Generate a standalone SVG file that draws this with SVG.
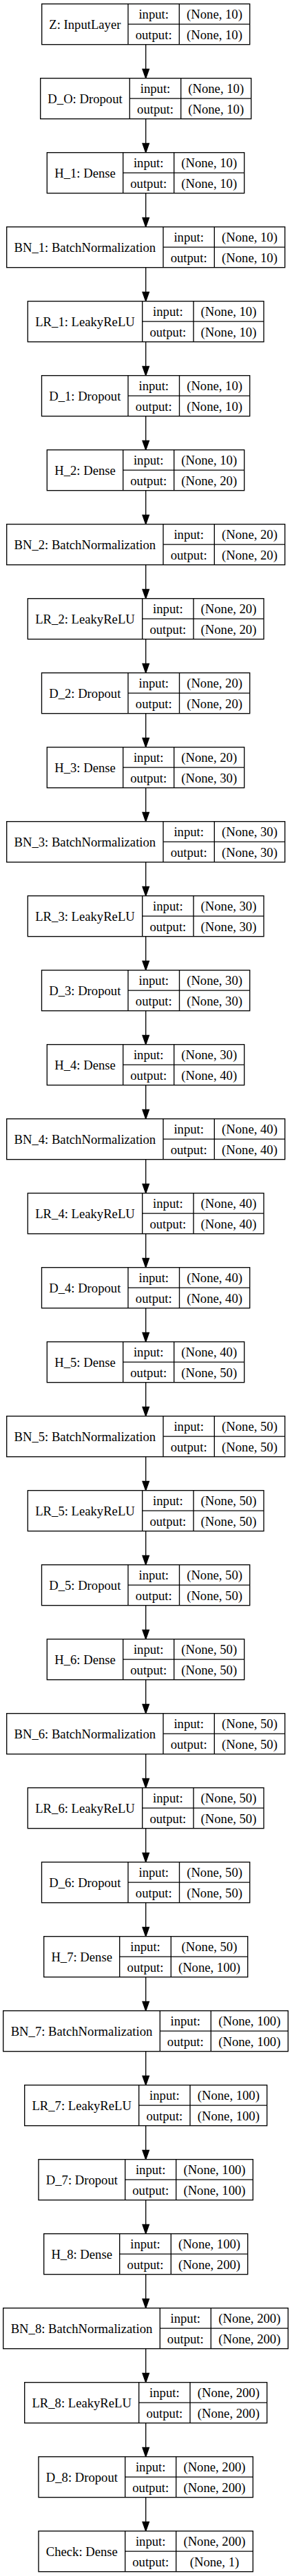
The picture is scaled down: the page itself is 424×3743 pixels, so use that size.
<svg xmlns="http://www.w3.org/2000/svg" xmlns:xlink="http://www.w3.org/1999/xlink" width="424" height="3743" viewBox="0 0 424 3743">
<style>
.b{fill:#fff;stroke:#000;stroke-width:1.33}
.l{stroke:#000;stroke-width:1.33;fill:none}
.a{fill:#000;stroke:#000;stroke-width:1.33}
text{font-family:"Liberation Serif","Times New Roman",serif;font-size:18.67px;text-anchor:middle;fill:#000}
</style>
<defs>
<g id="fZ"><rect class="b" x="60.7" y="0" width="302" height="59"/><path class="l" d="M186,0V59M260.3,0V59M186,29.5H362.7"/></g>
<g id="fDO"><rect class="b" x="58.7" y="0" width="306" height="59"/><path class="l" d="M188.3,0V59M262.7,0V59M188.3,29.5H364.7"/></g>
<g id="fD2"><rect class="b" x="60.5" y="0" width="302.2" height="59"/><path class="l" d="M186,0V59M260.5,0V59M186,29.5H362.7"/></g>
<g id="fH2"><rect class="b" x="68.3" y="0" width="286.4" height="59"/><path class="l" d="M178.7,0V59M252.7,0V59M178.7,29.5H354.7"/></g>
<g id="fBN2"><rect class="b" x="9.7" y="0" width="404" height="59"/><path class="l" d="M237,0V59M311.3,0V59M237,29.5H413.7"/></g>
<g id="fLR2"><rect class="b" x="40.3" y="0" width="342.7" height="59"/><path class="l" d="M206.7,0V59M281,0V59M206.7,29.5H383"/></g>
<g id="fH3"><rect class="b" x="63.7" y="0" width="296" height="59"/><path class="l" d="M173.7,0V59M248.3,0V59M173.7,29.5H359.7"/></g>
<g id="fBN3"><rect class="b" x="4.7" y="0" width="413.6" height="59"/><path class="l" d="M232.3,0V59M306.3,0V59M232.3,29.5H418.3"/></g>
<g id="fLR3"><rect class="b" x="35.7" y="0" width="352" height="59"/><path class="l" d="M201.7,0V59M276,0V59M201.7,29.5H387.7"/></g>
<g id="fD3"><rect class="b" x="56" y="0" width="311.3" height="59"/><path class="l" d="M181.7,0V59M255.7,0V59M181.7,29.5H367.3"/></g>
<g id="edge"><line class="l" x1="211.7" y1="59" x2="211.7" y2="95"/><polygon class="a" points="211.7,108 207,94.7 216.4,94.7"/></g>
</defs>
<g id="connectors">
<use xlink:href="#edge" href="#edge" y="5.7"/>
<use xlink:href="#edge" href="#edge" y="113.7"/>
<use xlink:href="#edge" href="#edge" y="221.7"/>
<use xlink:href="#edge" href="#edge" y="329.7"/>
<use xlink:href="#edge" href="#edge" y="437.7"/>
<use xlink:href="#edge" href="#edge" y="545.7"/>
<use xlink:href="#edge" href="#edge" y="653.7"/>
<use xlink:href="#edge" href="#edge" y="761.7"/>
<use xlink:href="#edge" href="#edge" y="869.7"/>
<use xlink:href="#edge" href="#edge" y="977.7"/>
<use xlink:href="#edge" href="#edge" y="1085.7"/>
<use xlink:href="#edge" href="#edge" y="1193.7"/>
<use xlink:href="#edge" href="#edge" y="1301.7"/>
<use xlink:href="#edge" href="#edge" y="1409.7"/>
<use xlink:href="#edge" href="#edge" y="1517.7"/>
<use xlink:href="#edge" href="#edge" y="1625.7"/>
<use xlink:href="#edge" href="#edge" y="1733.7"/>
<use xlink:href="#edge" href="#edge" y="1841.7"/>
<use xlink:href="#edge" href="#edge" y="1949.7"/>
<use xlink:href="#edge" href="#edge" y="2057.7"/>
<use xlink:href="#edge" href="#edge" y="2165.7"/>
<use xlink:href="#edge" href="#edge" y="2273.7"/>
<use xlink:href="#edge" href="#edge" y="2381.7"/>
<use xlink:href="#edge" href="#edge" y="2489.7"/>
<use xlink:href="#edge" href="#edge" y="2597.7"/>
<use xlink:href="#edge" href="#edge" y="2705.7"/>
<use xlink:href="#edge" href="#edge" y="2813.7"/>
<use xlink:href="#edge" href="#edge" y="2921.7"/>
<use xlink:href="#edge" href="#edge" y="3029.7"/>
<use xlink:href="#edge" href="#edge" y="3137.7"/>
<use xlink:href="#edge" href="#edge" y="3245.7"/>
<use xlink:href="#edge" href="#edge" y="3353.7"/>
<use xlink:href="#edge" href="#edge" y="3461.7"/>
<use xlink:href="#edge" href="#edge" y="3569.7"/>
</g>
<g id="node-Z" transform="translate(0,5.7)"><use xlink:href="#fZ" href="#fZ"/><text x="123.35" y="36.8">Z: InputLayer</text><text x="223.15" y="21.6">input:</text><text x="223.15" y="51">output:</text><text x="311.5" y="21.6">(None, 10)</text><text x="311.5" y="51">(None, 10)</text></g>
<g id="node-D_O" transform="translate(0,113.7)"><use xlink:href="#fDO" href="#fDO"/><text x="123.5" y="36.8">D_O: Dropout</text><text x="225.5" y="21.6">input:</text><text x="225.5" y="51">output:</text><text x="313.7" y="21.6">(None, 10)</text><text x="313.7" y="51">(None, 10)</text></g>
<g id="node-H_1" transform="translate(0,221.7)"><use xlink:href="#fH2" href="#fH2"/><text x="123.5" y="36.8">H_1: Dense</text><text x="215.7" y="21.6">input:</text><text x="215.7" y="51">output:</text><text x="303.7" y="21.6">(None, 10)</text><text x="303.7" y="51">(None, 10)</text></g>
<g id="node-BN_1" transform="translate(0,329.7)"><use xlink:href="#fBN2" href="#fBN2"/><text x="123.35" y="36.8">BN_1: BatchNormalization</text><text x="274.15" y="21.6">input:</text><text x="274.15" y="51">output:</text><text x="362.5" y="21.6">(None, 10)</text><text x="362.5" y="51">(None, 10)</text></g>
<g id="node-LR_1" transform="translate(0,437.7)"><use xlink:href="#fLR2" href="#fLR2"/><text x="123.5" y="36.8">LR_1: LeakyReLU</text><text x="243.85" y="21.6">input:</text><text x="243.85" y="51">output:</text><text x="332" y="21.6">(None, 10)</text><text x="332" y="51">(None, 10)</text></g>
<g id="node-D_1" transform="translate(0,545.7)"><use xlink:href="#fD2" href="#fD2"/><text x="123.25" y="36.8">D_1: Dropout</text><text x="223.25" y="21.6">input:</text><text x="223.25" y="51">output:</text><text x="311.6" y="21.6">(None, 10)</text><text x="311.6" y="51">(None, 10)</text></g>
<g id="node-H_2" transform="translate(0,653.7)"><use xlink:href="#fH2" href="#fH2"/><text x="123.5" y="36.8">H_2: Dense</text><text x="215.7" y="21.6">input:</text><text x="215.7" y="51">output:</text><text x="303.7" y="21.6">(None, 10)</text><text x="303.7" y="51">(None, 20)</text></g>
<g id="node-BN_2" transform="translate(0,761.7)"><use xlink:href="#fBN2" href="#fBN2"/><text x="123.35" y="36.8">BN_2: BatchNormalization</text><text x="274.15" y="21.6">input:</text><text x="274.15" y="51">output:</text><text x="362.5" y="21.6">(None, 20)</text><text x="362.5" y="51">(None, 20)</text></g>
<g id="node-LR_2" transform="translate(0,869.7)"><use xlink:href="#fLR2" href="#fLR2"/><text x="123.5" y="36.8">LR_2: LeakyReLU</text><text x="243.85" y="21.6">input:</text><text x="243.85" y="51">output:</text><text x="332" y="21.6">(None, 20)</text><text x="332" y="51">(None, 20)</text></g>
<g id="node-D_2" transform="translate(0,977.7)"><use xlink:href="#fD2" href="#fD2"/><text x="123.25" y="36.8">D_2: Dropout</text><text x="223.25" y="21.6">input:</text><text x="223.25" y="51">output:</text><text x="311.6" y="21.6">(None, 20)</text><text x="311.6" y="51">(None, 20)</text></g>
<g id="node-H_3" transform="translate(0,1085.7)"><use xlink:href="#fH2" href="#fH2"/><text x="123.5" y="36.8">H_3: Dense</text><text x="215.7" y="21.6">input:</text><text x="215.7" y="51">output:</text><text x="303.7" y="21.6">(None, 20)</text><text x="303.7" y="51">(None, 30)</text></g>
<g id="node-BN_3" transform="translate(0,1193.7)"><use xlink:href="#fBN2" href="#fBN2"/><text x="123.35" y="36.8">BN_3: BatchNormalization</text><text x="274.15" y="21.6">input:</text><text x="274.15" y="51">output:</text><text x="362.5" y="21.6">(None, 30)</text><text x="362.5" y="51">(None, 30)</text></g>
<g id="node-LR_3" transform="translate(0,1301.7)"><use xlink:href="#fLR2" href="#fLR2"/><text x="123.5" y="36.8">LR_3: LeakyReLU</text><text x="243.85" y="21.6">input:</text><text x="243.85" y="51">output:</text><text x="332" y="21.6">(None, 30)</text><text x="332" y="51">(None, 30)</text></g>
<g id="node-D_3" transform="translate(0,1409.7)"><use xlink:href="#fD2" href="#fD2"/><text x="123.25" y="36.8">D_3: Dropout</text><text x="223.25" y="21.6">input:</text><text x="223.25" y="51">output:</text><text x="311.6" y="21.6">(None, 30)</text><text x="311.6" y="51">(None, 30)</text></g>
<g id="node-H_4" transform="translate(0,1517.7)"><use xlink:href="#fH2" href="#fH2"/><text x="123.5" y="36.8">H_4: Dense</text><text x="215.7" y="21.6">input:</text><text x="215.7" y="51">output:</text><text x="303.7" y="21.6">(None, 30)</text><text x="303.7" y="51">(None, 40)</text></g>
<g id="node-BN_4" transform="translate(0,1625.7)"><use xlink:href="#fBN2" href="#fBN2"/><text x="123.35" y="36.8">BN_4: BatchNormalization</text><text x="274.15" y="21.6">input:</text><text x="274.15" y="51">output:</text><text x="362.5" y="21.6">(None, 40)</text><text x="362.5" y="51">(None, 40)</text></g>
<g id="node-LR_4" transform="translate(0,1733.7)"><use xlink:href="#fLR2" href="#fLR2"/><text x="123.5" y="36.8">LR_4: LeakyReLU</text><text x="243.85" y="21.6">input:</text><text x="243.85" y="51">output:</text><text x="332" y="21.6">(None, 40)</text><text x="332" y="51">(None, 40)</text></g>
<g id="node-D_4" transform="translate(0,1841.7)"><use xlink:href="#fD2" href="#fD2"/><text x="123.25" y="36.8">D_4: Dropout</text><text x="223.25" y="21.6">input:</text><text x="223.25" y="51">output:</text><text x="311.6" y="21.6">(None, 40)</text><text x="311.6" y="51">(None, 40)</text></g>
<g id="node-H_5" transform="translate(0,1949.7)"><use xlink:href="#fH2" href="#fH2"/><text x="123.5" y="36.8">H_5: Dense</text><text x="215.7" y="21.6">input:</text><text x="215.7" y="51">output:</text><text x="303.7" y="21.6">(None, 40)</text><text x="303.7" y="51">(None, 50)</text></g>
<g id="node-BN_5" transform="translate(0,2057.7)"><use xlink:href="#fBN2" href="#fBN2"/><text x="123.35" y="36.8">BN_5: BatchNormalization</text><text x="274.15" y="21.6">input:</text><text x="274.15" y="51">output:</text><text x="362.5" y="21.6">(None, 50)</text><text x="362.5" y="51">(None, 50)</text></g>
<g id="node-LR_5" transform="translate(0,2165.7)"><use xlink:href="#fLR2" href="#fLR2"/><text x="123.5" y="36.8">LR_5: LeakyReLU</text><text x="243.85" y="21.6">input:</text><text x="243.85" y="51">output:</text><text x="332" y="21.6">(None, 50)</text><text x="332" y="51">(None, 50)</text></g>
<g id="node-D_5" transform="translate(0,2273.7)"><use xlink:href="#fD2" href="#fD2"/><text x="123.25" y="36.8">D_5: Dropout</text><text x="223.25" y="21.6">input:</text><text x="223.25" y="51">output:</text><text x="311.6" y="21.6">(None, 50)</text><text x="311.6" y="51">(None, 50)</text></g>
<g id="node-H_6" transform="translate(0,2381.7)"><use xlink:href="#fH2" href="#fH2"/><text x="123.5" y="36.8">H_6: Dense</text><text x="215.7" y="21.6">input:</text><text x="215.7" y="51">output:</text><text x="303.7" y="21.6">(None, 50)</text><text x="303.7" y="51">(None, 50)</text></g>
<g id="node-BN_6" transform="translate(0,2489.7)"><use xlink:href="#fBN2" href="#fBN2"/><text x="123.35" y="36.8">BN_6: BatchNormalization</text><text x="274.15" y="21.6">input:</text><text x="274.15" y="51">output:</text><text x="362.5" y="21.6">(None, 50)</text><text x="362.5" y="51">(None, 50)</text></g>
<g id="node-LR_6" transform="translate(0,2597.7)"><use xlink:href="#fLR2" href="#fLR2"/><text x="123.5" y="36.8">LR_6: LeakyReLU</text><text x="243.85" y="21.6">input:</text><text x="243.85" y="51">output:</text><text x="332" y="21.6">(None, 50)</text><text x="332" y="51">(None, 50)</text></g>
<g id="node-D_6" transform="translate(0,2705.7)"><use xlink:href="#fD2" href="#fD2"/><text x="123.25" y="36.8">D_6: Dropout</text><text x="223.25" y="21.6">input:</text><text x="223.25" y="51">output:</text><text x="311.6" y="21.6">(None, 50)</text><text x="311.6" y="51">(None, 50)</text></g>
<g id="node-H_7" transform="translate(0,2813.7)"><use xlink:href="#fH3" href="#fH3"/><text x="118.7" y="36.8">H_7: Dense</text><text x="211" y="21.6">input:</text><text x="211" y="51">output:</text><text x="304" y="21.6">(None, 50)</text><text x="304" y="51">(None, 100)</text></g>
<g id="node-BN_7" transform="translate(0,2921.7)"><use xlink:href="#fBN3" href="#fBN3"/><text x="118.5" y="36.8">BN_7: BatchNormalization</text><text x="269.3" y="21.6">input:</text><text x="269.3" y="51">output:</text><text x="362.3" y="21.6">(None, 100)</text><text x="362.3" y="51">(None, 100)</text></g>
<g id="node-LR_7" transform="translate(0,3029.7)"><use xlink:href="#fLR3" href="#fLR3"/><text x="118.7" y="36.8">LR_7: LeakyReLU</text><text x="238.85" y="21.6">input:</text><text x="238.85" y="51">output:</text><text x="331.85" y="21.6">(None, 100)</text><text x="331.85" y="51">(None, 100)</text></g>
<g id="node-D_7" transform="translate(0,3137.7)"><use xlink:href="#fD3" href="#fD3"/><text x="118.85" y="36.8">D_7: Dropout</text><text x="218.7" y="21.6">input:</text><text x="218.7" y="51">output:</text><text x="311.5" y="21.6">(None, 100)</text><text x="311.5" y="51">(None, 100)</text></g>
<g id="node-H_8" transform="translate(0,3245.7)"><use xlink:href="#fH3" href="#fH3"/><text x="118.7" y="36.8">H_8: Dense</text><text x="211" y="21.6">input:</text><text x="211" y="51">output:</text><text x="304" y="21.6">(None, 100)</text><text x="304" y="51">(None, 200)</text></g>
<g id="node-BN_8" transform="translate(0,3353.7)"><use xlink:href="#fBN3" href="#fBN3"/><text x="118.5" y="36.8">BN_8: BatchNormalization</text><text x="269.3" y="21.6">input:</text><text x="269.3" y="51">output:</text><text x="362.3" y="21.6">(None, 200)</text><text x="362.3" y="51">(None, 200)</text></g>
<g id="node-LR_8" transform="translate(0,3461.7)"><use xlink:href="#fLR3" href="#fLR3"/><text x="118.7" y="36.8">LR_8: LeakyReLU</text><text x="238.85" y="21.6">input:</text><text x="238.85" y="51">output:</text><text x="331.85" y="21.6">(None, 200)</text><text x="331.85" y="51">(None, 200)</text></g>
<g id="node-D_8" transform="translate(0,3569.7)"><use xlink:href="#fD3" href="#fD3"/><text x="118.85" y="36.8">D_8: Dropout</text><text x="218.7" y="21.6">input:</text><text x="218.7" y="51">output:</text><text x="311.5" y="21.6">(None, 200)</text><text x="311.5" y="51">(None, 200)</text></g>
<g id="node-Check" transform="translate(0,3677.7)"><use xlink:href="#fD3" href="#fD3"/><text x="118.85" y="36.8">Check: Dense</text><text x="218.7" y="21.6">input:</text><text x="218.7" y="51">output:</text><text x="311.5" y="21.6">(None, 200)</text><text x="311.5" y="51">(None, 1)</text></g>
</svg>
